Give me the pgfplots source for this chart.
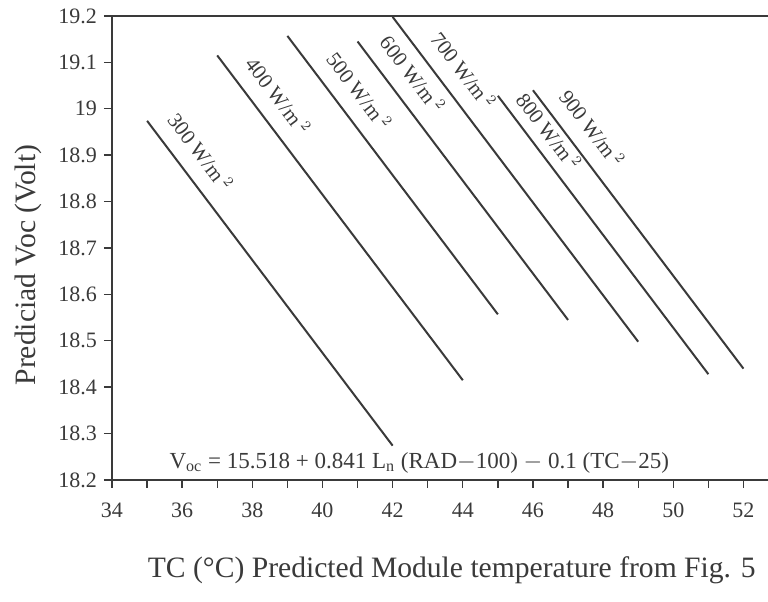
\documentclass[border=0pt]{standalone}
\usepackage{pgfplots}
\pgfplotsset{compat=1.18}
\usepackage{fontspec}
\setmainfont{Liberation Serif}
\usetikzlibrary{calc}
\definecolor{ink}{HTML}{3A3A3A}
\begin{document}
\begin{tikzpicture}
\begin{axis}[
  name=ax,
  scale only axis,
  width=328pt, height=232pt,
  xmin=34, xmax=52.7, ymin=18.2, ymax=19.2,
  axis x line*=box, axis y line*=left,
  axis line style={ink, line width=0.9pt, -},
  xtick={34,36,...,52},
  minor xtick={35,37,...,51},
  ytick={18.2,18.3,...,19.25},
  xtick pos=bottom, ytick pos=left,
  tick align=outside,
  major tick length=4pt, minor tick length=4pt,
  every tick/.style={ink, line width=0.7pt},
  every minor tick/.style={ink, line width=0.7pt},
  tick label style={font=\fontsize{11}{13}\selectfont, text=ink},
  /pgf/number format/assume math mode=true,
  yticklabel style={/pgf/number format/.cd, fixed, precision=1},
  xticklabel style={text height=1.6ex, text depth=0.2ex, yshift=-4pt, /pgf/number format/.cd, fixed, precision=0},
  xlabel={TC (°C) Predicted Module temperature from Fig. 5},
  ylabel={Prediciad Voc (Volt)},
  label style={font=\fontsize{14.8}{16}\selectfont, text=ink},
  xlabel style={at={(axis description cs:0.518,-0.194)}, anchor=center},
  ylabel style={at={(axis description cs:-0.128,0.463)}, anchor=center},
  clip=false,
]
\addplot[ink, line width=1pt] coordinates {(35,18.974) (42,18.274)}
  node[pos=0.14, sloped, above=4pt, font=\fontsize{10.5}{12}\selectfont, text=ink] {300 W/m\,$^{2}$};
\addplot[ink, line width=1pt] coordinates {(37,19.115) (44,18.415)}
  node[pos=0.17, sloped, above=4pt, font=\fontsize{10.5}{12}\selectfont, text=ink] {400 W/m\,$^{2}$};
\addplot[ink, line width=1pt] coordinates {(39,19.157) (45,18.557)}
  node[pos=0.25, sloped, above=4pt, font=\fontsize{10.5}{12}\selectfont, text=ink] {500 W/m\,$^{2}$};
\addplot[ink, line width=1pt] coordinates {(41,19.145) (47,18.545)}
  node[pos=0.17, sloped, above=4pt, font=\fontsize{10.5}{12}\selectfont, text=ink] {600 W/m\,$^{2}$};
\addplot[ink, line width=1pt] coordinates {(42,19.198) (49,18.498)}
  node[pos=0.21, sloped, above=4pt, font=\fontsize{10.5}{12}\selectfont, text=ink] {700 W/m\,$^{2}$};
\addplot[ink, line width=1pt] coordinates {(45,19.028) (51,18.428)}
  node[pos=0.17, sloped, above=1.5pt, font=\fontsize{10.5}{12}\selectfont, text=ink] {800 W/m\,$^{2}$};
\addplot[ink, line width=1pt] coordinates {(46,19.040) (52,18.440)}
  node[pos=0.19, sloped, above=4pt, font=\fontsize{10.5}{12}\selectfont, text=ink] {900 W/m\,$^{2}$};
\node[font=\fontsize{11.5}{13}\selectfont, text=ink] at (axis cs:42.76,18.237)
  {V\textsubscript{oc} = 15.518 + 0.841 L\textsubscript{n} (RAD$-$100) $-$ 0.1 (TC$-$25)};
\end{axis}
\pgfresetboundingbox
\path[use as bounding box] ($(ax.south west)+(-56pt,-61pt)$) rectangle ($(ax.north east)+(0pt,8pt)$);
\end{tikzpicture}
\end{document}
